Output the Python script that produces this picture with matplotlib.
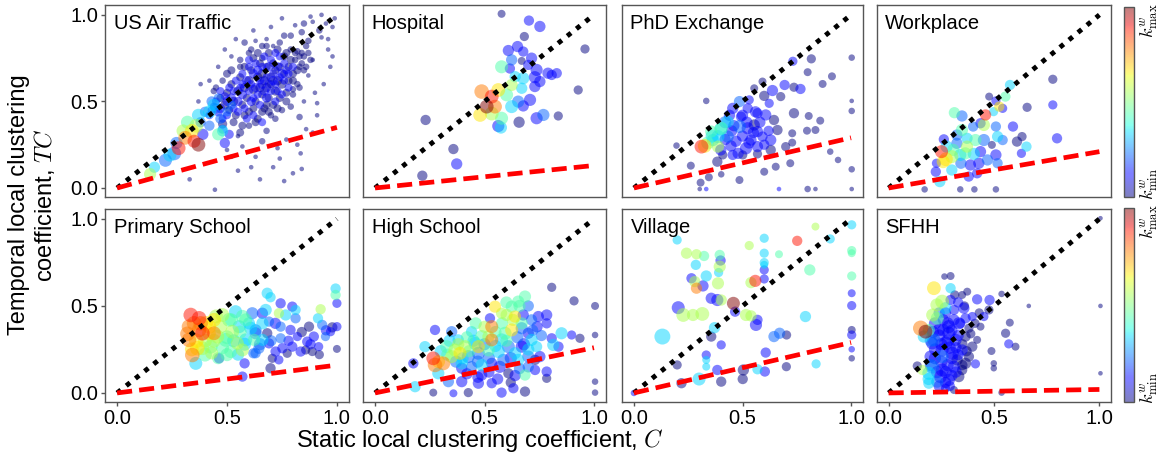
import numpy as np
import matplotlib
matplotlib.use("Agg")
import matplotlib.pyplot as plt
from matplotlib.colors import ListedColormap, Normalize
import matplotlib.colorbar as mcolorbar

plt.rcParams['font.family'] = ['Liberation Sans', 'DejaVu Sans']
plt.rcParams['mathtext.fontset'] = 'cm'

# node rows: (static C, temporal TC, weighted degree class 0-9, degree class)
air_traffic = [
    (0.445, -0.01, 0, 1), (0.76, 0.04, 0, 1), (0.80, 0.085, 0, 1), (0.33, 0.05, 0, 1), (0.835, 0.20, 0, 1),
    (0.91, 0.49, 0, 1), (0.89, 0.32, 0, 1), (0.83, 0.41, 0, 2), (0.49, 0.80, 0, 1), (0.58, 0.84, 0, 2),
    (0.63, 0.85, 0, 1), (0.37, 0.50, 0, 1), (0.81, 0.94, 0, 1), (0.85, 0.95, 0, 2), (0.89, 0.96, 0, 1),
    (0.93, 0.87, 0, 1), (0.96, 0.80, 0, 1), (0.98, 0.93, 0, 1), (0.76, 0.88, 0, 2), (0.71, 0.82, 0, 1),
    (0.68, 0.86, 0, 1), (0.56, 0.70, 0, 2), (0.57, 0.24, 0, 1), (0.63, 0.18, 0, 1), (0.71, 0.12, 0, 1),
    (0.61, 0.12, 0, 1), (0.52, 0.18, 0, 1), (0.84, 0.11, 0, 1), (0.68, 0.33, 0, 2), (0.77, 0.28, 0, 1),
    (0.86, 0.34, 0, 1), (0.80, 0.57, 0, 2), (0.87, 0.65, 0, 1), (0.89, 0.74, 0, 1), (0.96, 0.86, 0, 1),
    (0.98, 0.76, 0, 1), (0.95, 0.95, 0, 1), (0.99, 0.98, 0, 1), (0.92, 0.91, 0, 2), (0.97, 0.70, 0, 1),
    (0.94, 0.60, 0, 1), (0.90, 0.55, 0, 1), (0.73, 0.23, 0, 1), (0.66, 0.27, 0, 2), (0.55, 0.30, 0, 1),
    (0.60, 0.36, 0, 2), (0.72, 0.40, 0, 2), (0.79, 0.47, 0, 2), (0.85, 0.50, 0, 1), (0.42, 0.62, 0, 1),
    (0.46, 0.70, 0, 1), (0.52, 0.76, 0, 1), (0.44, 0.56, 0, 2), (0.38, 0.60, 0, 1), (0.54, 0.86, 0, 1),
    (0.62, 0.91, 0, 1), (0.70, 0.93, 0, 1), (0.75, 0.98, 0, 1), (0.88, 0.99, 0, 1), (0.93, 1.00, 0, 1),
    (0.65, 0.05, 0, 1), (0.55, 0.10, 0, 1), (0.50, 0.22, 0, 1), (0.74, 0.17, 0, 1), (0.82, 0.25, 0, 1),
    (0.91, 0.42, 0, 1), (0.87, 0.85, 0, 2), (0.82, 0.79, 0, 2), (0.60, 0.78, 0, 2), (0.66, 0.75, 0, 2),
    (0.42, 0.42, 1, 3), (0.44, 0.47, 1, 3), (0.46, 0.44, 1, 4), (0.47, 0.52, 0, 3), (0.48, 0.40, 1, 3),
    (0.49, 0.48, 0, 4), (0.50, 0.55, 0, 3), (0.51, 0.45, 0, 3), (0.52, 0.60, 0, 3), (0.53, 0.50, 0, 4),
    (0.54, 0.42, 0, 3), (0.55, 0.56, 0, 4), (0.56, 0.64, 0, 3), (0.57, 0.48, 0, 3), (0.58, 0.58, 0, 4),
    (0.58, 0.70, 0, 3), (0.59, 0.52, 0, 3), (0.60, 0.62, 0, 4), (0.60, 0.44, 0, 3), (0.61, 0.68, 0, 3),
    (0.62, 0.57, 0, 4), (0.62, 0.75, 0, 3), (0.63, 0.50, 0, 3), (0.64, 0.64, 0, 4), (0.64, 0.40, 0, 3),
    (0.65, 0.58, 0, 4), (0.65, 0.72, 0, 3), (0.66, 0.54, 0, 3), (0.66, 0.66, 0, 4), (0.67, 0.62, 0, 4),
    (0.67, 0.46, 0, 3), (0.68, 0.70, 0, 3), (0.68, 0.58, 0, 4), (0.69, 0.78, 0, 3), (0.69, 0.52, 0, 3),
    (0.70, 0.64, 0, 4), (0.70, 0.60, 0, 3), (0.71, 0.72, 0, 3), (0.71, 0.48, 0, 3), (0.72, 0.56, 0, 4),
    (0.72, 0.68, 0, 3), (0.73, 0.62, 0, 4), (0.73, 0.80, 0, 3), (0.74, 0.52, 0, 3), (0.74, 0.70, 0, 3),
    (0.75, 0.60, 0, 4), (0.76, 0.66, 0, 3), (0.76, 0.76, 0, 3), (0.77, 0.55, 0, 3), (0.78, 0.70, 0, 3),
    (0.78, 0.62, 0, 3), (0.79, 0.80, 0, 2), (0.80, 0.66, 0, 3), (0.81, 0.74, 0, 2), (0.82, 0.60, 0, 2),
    (0.83, 0.70, 0, 2), (0.84, 0.78, 0, 2), (0.85, 0.68, 0, 2), (0.86, 0.82, 0, 2), (0.88, 0.74, 0, 2),
    (0.63, 0.38, 0, 3), (0.57, 0.36, 0, 3), (0.53, 0.38, 0, 3), (0.70, 0.42, 0, 2), (0.75, 0.45, 0, 2),
    (0.61, 0.80, 0, 2), (0.66, 0.82, 0, 2), (0.56, 0.74, 0, 2), (0.52, 0.68, 0, 3), (0.48, 0.62, 0, 2),
    (0.45, 0.58, 0, 2), (0.50, 0.66, 0, 3), (0.74, 0.84, 0, 2), (0.79, 0.88, 0, 2), (0.84, 0.90, 0, 2),
    (0.68, 0.48, 0, 3), (0.62, 0.46, 0, 3), (0.58, 0.42, 0, 3),
    (0.43, 0.45, 1, 3), (0.45, 0.50, 1, 3), (0.47, 0.46, 1, 4), (0.49, 0.53, 1, 3), (0.50, 0.42, 1, 3),
    (0.51, 0.58, 1, 3), (0.52, 0.52, 1, 4), (0.53, 0.46, 1, 3), (0.54, 0.62, 1, 3), (0.55, 0.50, 1, 4),
    (0.56, 0.58, 1, 3), (0.57, 0.66, 1, 3), (0.57, 0.54, 1, 4), (0.58, 0.46, 1, 3), (0.59, 0.62, 1, 4),
    (0.60, 0.56, 1, 3), (0.60, 0.70, 1, 3), (0.61, 0.50, 1, 4), (0.61, 0.60, 1, 3), (0.62, 0.66, 1, 4),
    (0.62, 0.52, 1, 3), (0.63, 0.72, 1, 3), (0.63, 0.58, 1, 4), (0.64, 0.54, 1, 3), (0.64, 0.68, 1, 4),
    (0.65, 0.62, 1, 3), (0.65, 0.48, 1, 3), (0.66, 0.60, 1, 4), (0.66, 0.70, 1, 3), (0.67, 0.56, 1, 4),
    (0.67, 0.76, 1, 3), (0.68, 0.64, 1, 3), (0.68, 0.52, 1, 4), (0.69, 0.60, 1, 3), (0.69, 0.70, 1, 4),
    (0.70, 0.56, 1, 3), (0.70, 0.74, 1, 3), (0.71, 0.62, 1, 4), (0.71, 0.66, 1, 3), (0.72, 0.60, 1, 3),
    (0.72, 0.50, 1, 3), (0.73, 0.70, 1, 4), (0.73, 0.56, 1, 3), (0.74, 0.64, 1, 3), (0.74, 0.76, 1, 3),
    (0.75, 0.66, 1, 4), (0.75, 0.54, 1, 3), (0.76, 0.62, 1, 3), (0.76, 0.72, 1, 3), (0.77, 0.68, 1, 3),
    (0.77, 0.78, 0, 3), (0.78, 0.58, 1, 3), (0.78, 0.66, 1, 3), (0.79, 0.74, 0, 3), (0.80, 0.70, 1, 3),
    (0.80, 0.62, 0, 3), (0.81, 0.78, 0, 2), (0.82, 0.68, 0, 3), (0.83, 0.76, 0, 2), (0.84, 0.72, 0, 2),
    (0.85, 0.76, 0, 2), (0.86, 0.70, 0, 2), (0.87, 0.78, 0, 2), (0.59, 0.40, 1, 3), (0.62, 0.42, 1, 3),
    (0.55, 0.44, 1, 3), (0.66, 0.44, 0, 3), (0.69, 0.44, 0, 3), (0.73, 0.46, 0, 3), (0.77, 0.50, 0, 3),
    (0.80, 0.54, 0, 2), (0.83, 0.58, 0, 2), (0.60, 0.74, 1, 3), (0.64, 0.78, 0, 3), (0.68, 0.82, 0, 2),
    (0.72, 0.78, 1, 3), (0.57, 0.60, 1, 3), (0.53, 0.56, 1, 3), (0.50, 0.50, 1, 4), (0.47, 0.56, 1, 3),
    (0.40, 0.44, 2, 5), (0.43, 0.50, 2, 5), (0.45, 0.46, 2, 5), (0.47, 0.40, 2, 5), (0.50, 0.44, 2, 4),
    (0.38, 0.38, 2, 5), (0.42, 0.36, 2, 5), (0.48, 0.34, 2, 4), (0.46, 0.52, 2, 4), (0.52, 0.48, 2, 4),
    (0.49, 0.26, 1, 5), (0.51, 0.31, 1, 4), (0.48, 0.37, 0, 4), (0.56, 0.32, 0, 3), (0.66, 0.38, 1, 3),
    (0.15, 0.08, 5, 7), (0.17, 0.12, 3, 6), (0.22, 0.16, 2, 8), (0.26, 0.20, 2, 9), (0.24, 0.19, 3, 8),
    (0.28, 0.23, 8, 9), (0.37, 0.25, 9, 9), (0.31, 0.29, 7, 9), (0.34, 0.33, 6, 9), (0.36, 0.36, 5, 9),
    (0.32, 0.38, 4, 8), (0.37, 0.42, 3, 8), (0.42, 0.44, 3, 8), (0.44, 0.48, 3, 7), (0.46, 0.31, 4, 7),
    (0.48, 0.33, 3, 6), (0.27, 0.26, 2, 7), (0.30, 0.33, 5, 8), (0.39, 0.31, 1, 6), (0.35, 0.27, 8, 8),
]

hospital = [
    (0.578, 1.006, 0, 3), (0.703, 0.967, 1, 5), (0.753, 0.933, 1, 6), (0.682, 0.875, 0, 4), (0.959, 0.803, 0, 4),
    (0.651, 0.817, 1, 6), (0.609, 0.794, 1, 6), (0.677, 0.788, 1, 5), (0.715, 0.750, 1, 6), (0.624, 0.740, 2, 6),
    (0.670, 0.734, 0, 3), (0.578, 0.700, 4, 8), (0.616, 0.690, 1, 5), (0.738, 0.682, 1, 7), (0.790, 0.663, 1, 6),
    (0.830, 0.663, 1, 5), (0.730, 0.640, 1, 7), (0.677, 0.634, 3, 7), (0.640, 0.643, 3, 6), (0.624, 0.595, 5, 7),
    (0.730, 0.586, 1, 6), (0.670, 0.576, 3, 6), (0.928, 0.566, 0, 4), (0.487, 0.557, 7, 10), (0.563, 0.566, 6, 9),
    (0.601, 0.538, 4, 8), (0.533, 0.528, 8, 9), (0.708, 0.509, 1, 7), (0.654, 0.499, 2, 7), (0.624, 0.470, 3, 8),
    (0.677, 0.474, 1, 6), (0.510, 0.470, 9, 9), (0.548, 0.470, 7, 9), (0.480, 0.422, 6, 9), (0.533, 0.430, 5, 9),
    (0.578, 0.403, 4, 8), (0.769, 0.422, 2, 7), (0.738, 0.403, 1, 7), (0.837, 0.416, 0, 4), (0.658, 0.380, 0, 6),
    (0.563, 0.358, 1, 7), (0.575, 0.349, 3, 7), (0.231, 0.393, 0, 5), (0.358, 0.225, 0, 5), (0.373, 0.139, 1, 6),
    (0.216, 0.071, 0, 5), (0.700, 0.711, 1, 5), (0.753, 0.615, 1, 6), (0.807, 0.653, 1, 5),
]

phd_exchange = [
    (1.003, 0.753, 0, 2), (1.003, 0.503, 0, 1), (1.003, 0.445, 0, 2), (1.003, 0.108, 0, 2), (1.003, -0.006, 0, 1),
    (0.817, 0.746, 0, 4), (0.800, 0.669, 0, 3), (0.732, 0.732, 1, 4), (0.912, 0.645, 0, 3), (0.869, 0.601, 0, 3),
    (0.767, 0.572, 1, 5), (0.737, 0.582, 0, 4), (0.694, 0.595, 1, 5), (0.638, 0.563, 1, 6), (0.600, 0.532, 0, 5),
    (0.676, 0.528, 0, 4), (0.333, 0.503, 0, 2), (0.486, 0.499, 2, 6), (0.455, 0.460, 1, 6), (0.524, 0.460, 1, 5),
    (0.569, 0.432, 1, 5), (0.607, 0.422, 1, 6), (0.737, 0.432, 0, 5), (0.805, 0.416, 0, 3), (0.858, 0.389, 0, 3),
    (0.432, 0.383, 3, 7), (0.486, 0.355, 2, 8), (0.402, 0.345, 4, 8), (0.356, 0.326, 4, 7), (0.524, 0.345, 1, 7),
    (0.569, 0.326, 1, 6), (0.661, 0.335, 0, 5), (0.729, 0.316, 0, 3), (0.797, 0.331, 0, 3), (0.836, 0.335, 0, 3),
    (0.311, 0.239, 8, 9), (0.326, 0.243, 6, 9), (0.387, 0.297, 3, 8), (0.432, 0.297, 2, 7), (0.447, 0.243, 1, 6),
    (0.516, 0.229, 1, 7), (0.569, 0.239, 1, 6), (0.630, 0.220, 0, 5), (0.699, 0.239, 0, 4), (0.729, 0.262, 0, 3),
    (0.387, 0.239, 5, 7), (0.364, 0.277, 3, 7), (0.409, 0.191, 0, 4), (0.455, 0.191, 1, 5), (0.384, 0.152, 0, 5),
    (0.501, 0.191, 0, 4), (0.569, 0.197, 0, 4), (0.720, 0.143, 0, 3), (0.262, 0.129, 0, 3), (0.196, 0.245, 0, 2),
    (0.307, 0.031, 0, 3), (0.345, 0.062, 0, 3), (0.486, 0.046, 0, 3), (0.600, 0.094, 0, 3), (0.653, 0.123, 0, 3),
    (0.402, 0.079, 0, 2), (0.303, -0.006, 0, 1), (0.333, -0.006, 1, 1), (0.668, -0.006, 1, 1), (0.800, -0.006, 0, 2),
    (0.836, -0.006, 0, 1), (0.940, 0.162, 0, 2), (0.554, 0.364, 0, 6), (0.630, 0.277, 1, 6), (0.592, 0.297, 1, 5),
    (0.539, 0.277, 1, 6), (0.493, 0.412, 1, 5), (0.645, 0.393, 0, 5), (0.623, 0.489, 1, 4), (0.531, 0.509, 1, 4),
    (0.592, 0.615, 0, 3), (0.554, 0.576, 0, 3), (0.904, 0.210, 0, 2),
    (0.45, 0.33, 1, 6), (0.50, 0.30, 1, 6), (0.52, 0.38, 1, 6), (0.47, 0.27, 1, 6), (0.55, 0.32, 1, 6),
    (0.58, 0.38, 1, 6), (0.50, 0.42, 1, 6), (0.44, 0.42, 1, 6), (0.42, 0.28, 1, 6), (0.48, 0.20, 1, 6),
    (0.53, 0.26, 1, 6), (0.60, 0.25, 1, 5), (0.56, 0.44, 1, 6), (0.62, 0.33, 1, 5), (0.40, 0.22, 1, 6),
    (0.46, 0.36, 1, 6), (0.36, 0.30, 3, 8), (0.40, 0.34, 3, 8), (0.34, 0.26, 4, 8), (0.42, 0.38, 2, 7),
]

workplace = [
    (0.779, 0.628, 0, 4), (0.779, 0.480, 1, 4), (0.799, 0.287, 1, 5), (0.657, 0.466, 0, 4), (0.590, 0.355, 1, 5),
    (0.633, 0.297, 0, 4), (0.609, 0.268, 0, 5), (0.654, 0.239, 3, 5), (0.630, 0.200, 1, 4), (0.576, 0.595, 3, 5),
    (0.554, 0.528, 4, 5), (0.477, 0.528, 0, 3), (0.509, 0.503, 1, 4), (0.525, 0.470, 6, 5), (0.541, 0.460, 1, 4),
    (0.498, 0.441, 3, 4), (0.312, 0.435, 4, 6), (0.348, 0.416, 2, 6), (0.436, 0.374, 1, 5), (0.460, 0.422, 8, 6),
    (0.452, 0.364, 5, 7), (0.509, 0.355, 2, 5), (0.517, 0.297, 3, 6), (0.541, 0.277, 2, 5), (0.490, 0.249, 0, 3),
    (0.401, 0.355, 2, 5), (0.348, 0.335, 4, 7), (0.324, 0.306, 2, 6), (0.372, 0.287, 3, 6), (0.412, 0.277, 4, 7),
    (0.452, 0.277, 2, 7), (0.262, 0.281, 1, 5), (0.275, 0.239, 3, 7), (0.251, 0.210, 8, 8), (0.272, 0.166, 6, 9),
    (0.259, 0.152, 6, 8), (0.300, 0.181, 5, 8), (0.340, 0.191, 3, 7), (0.364, 0.200, 4, 7), (0.404, 0.197, 3, 7),
    (0.436, 0.210, 1, 6), (0.343, 0.143, 2, 6), (0.388, 0.133, 1, 6), (0.428, 0.143, 1, 6), (0.469, 0.162, 2, 6),
    (0.509, 0.191, 1, 6), (0.517, 0.143, 2, 5), (0.300, 0.104, 3, 6), (0.227, 0.143, 1, 4), (0.224, 0.094, 1, 5),
    (0.243, 0.037, 3, 6), (0.380, 0.066, 1, 5), (0.420, 0.085, 1, 5), (0.171, -0.008, 0, 2), (0.340, -0.008, 0, 2),
    (0.407, -0.008, 0, 2), (0.509, -0.008, 0, 2), (0.307, 0.220, 4, 7), (0.372, 0.239, 5, 7), (0.324, 0.258, 2, 6),
]

primary_school = [
    (0.994, 0.600, 3, 5), (0.994, 0.563, 4, 5), (1.000, 0.515, 1, 4), (1.000, 0.381, 1, 4), (1.000, 0.253, 0, 3),
    (0.979, 0.377, 0, 5), (0.971, 0.352, 1, 4), (0.948, 0.324, 2, 4), (0.926, 0.481, 5, 5), (0.914, 0.429, 3, 5),
    (0.933, 0.391, 2, 5), (0.895, 0.324, 1, 5), (0.917, 0.266, 1, 4), (0.888, 0.238, 0, 4), (0.865, 0.295, 1, 5),
    (0.858, 0.247, 0, 4), (0.835, 0.238, 1, 5), (0.820, 0.324, 1, 4), (0.873, 0.381, 0, 5), (0.797, 0.266, 1, 5),
    (0.774, 0.228, 0, 4), (0.752, 0.257, 1, 5), (0.744, 0.314, 2, 5), (0.721, 0.238, 1, 5), (0.706, 0.199, 0, 4),
    (0.736, 0.190, 1, 4), (0.698, 0.142, 0, 5), (0.645, 0.257, 2, 6), (0.630, 0.228, 2, 5), (0.691, 0.285, 1, 5),
    (0.683, 0.343, 0, 5), (0.691, 0.410, 2, 5), (0.661, 0.458, 1, 6), (0.683, 0.573, 3, 6), (0.698, 0.550, 3, 5),
    (0.744, 0.515, 1, 5), (0.797, 0.496, 1, 5), (0.767, 0.448, 3, 6), (0.812, 0.477, 3, 5), (0.744, 0.381, 2, 5),
    (0.789, 0.362, 1, 5), (0.812, 0.429, 2, 5), (0.736, 0.458, 5, 5), (0.570, 0.094, 1, 5), (0.580, 0.170, 1, 5),
    (0.620, 0.228, 2, 5), (0.464, 0.199, 1, 5), (0.358, 0.170, 3, 8), (0.342, 0.218, 7, 10), (0.365, 0.257, 6, 10),
    (0.327, 0.305, 7, 10), (0.327, 0.381, 7, 10), (0.335, 0.448, 8, 10), (0.373, 0.429, 8, 10), (0.373, 0.362, 7, 10),
    (0.403, 0.400, 6, 10), (0.418, 0.343, 6, 9), (0.388, 0.257, 5, 9), (0.426, 0.266, 4, 9), (0.456, 0.324, 5, 9),
    (0.479, 0.448, 5, 9), (0.441, 0.420, 6, 9), (0.509, 0.420, 4, 9), (0.524, 0.352, 5, 9), (0.494, 0.305, 4, 9),
    (0.547, 0.285, 5, 8), (0.570, 0.247, 5, 8), (0.517, 0.238, 4, 8), (0.555, 0.381, 3, 8), (0.585, 0.420, 4, 8),
    (0.615, 0.458, 2, 7), (0.608, 0.372, 3, 8), (0.630, 0.343, 2, 7), (0.661, 0.400, 3, 7), (0.585, 0.305, 3, 8),
    (0.623, 0.305, 4, 7), (0.661, 0.305, 3, 7), (0.676, 0.477, 3, 7), (0.539, 0.467, 3, 8), (0.441, 0.343, 7, 9),
    (0.388, 0.343, 8, 10),
    (0.35, 0.40, 7, 10), (0.32, 0.34, 7, 10), (0.36, 0.30, 6, 10), (0.40, 0.30, 5, 9), (0.38, 0.40, 7, 10),
    (0.42, 0.38, 6, 9), (0.34, 0.25, 6, 9), (0.40, 0.22, 4, 9), (0.44, 0.30, 5, 9), (0.47, 0.38, 5, 9),
    (0.50, 0.32, 4, 9), (0.52, 0.42, 4, 8), (0.48, 0.26, 4, 8), (0.53, 0.30, 3, 8), (0.56, 0.35, 4, 8),
    (0.58, 0.28, 3, 8), (0.60, 0.40, 3, 7), (0.63, 0.36, 2, 7), (0.65, 0.28, 2, 7), (0.57, 0.44, 4, 8),
    (0.45, 0.44, 5, 9), (0.43, 0.23, 5, 8), (0.46, 0.20, 4, 7), (0.50, 0.22, 4, 8), (0.55, 0.22, 3, 7),
    (0.72, 0.40, 1, 6), (0.78, 0.30, 1, 5), (0.84, 0.35, 0, 5), (0.88, 0.28, 1, 5), (0.95, 0.36, 1, 5),
    (0.92, 0.22, 0, 4), (0.70, 0.30, 2, 6),
]

high_school = [
    (1.005, 0.500, 0, 3), (1.005, 0.333, 0, 2), (1.005, 0.065, 0, 2), (1.005, 0.002, 0, 2), (0.807, 0.607, 0, 4),
    (0.909, 0.529, 0, 4), (0.898, 0.333, 1, 4), (0.936, 0.314, 0, 4), (0.852, 0.343, 3, 7), (0.807, 0.314, 1, 5),
    (0.784, 0.448, 1, 6), (0.746, 0.439, 1, 6), (0.784, 0.400, 1, 5), (0.814, 0.276, 3, 7), (0.738, 0.266, 3, 6),
    (0.784, 0.123, 1, 5), (0.784, 0.084, 0, 4), (0.731, 0.132, 1, 5), (0.685, 0.554, 4, 7), (0.654, 0.525, 4, 7),
    (0.624, 0.496, 4, 7), (0.677, 0.448, 1, 6), (0.548, 0.496, 6, 7), (0.578, 0.458, 5, 6), (0.525, 0.429, 1, 5),
    (0.533, 0.381, 7, 8), (0.624, 0.362, 6, 8), (0.670, 0.372, 2, 7), (0.700, 0.343, 1, 6), (0.715, 0.305, 3, 7),
    (0.533, 0.305, 7, 8), (0.578, 0.305, 3, 8), (0.487, 0.324, 4, 8), (0.457, 0.285, 3, 8), (0.411, 0.266, 5, 8),
    (0.365, 0.247, 5, 8), (0.327, 0.266, 4, 8), (0.388, 0.228, 6, 8), (0.426, 0.209, 2, 8), (0.472, 0.228, 2, 8),
    (0.518, 0.247, 4, 8), (0.609, 0.266, 2, 8), (0.639, 0.228, 3, 7), (0.670, 0.266, 1, 7), (0.654, 0.190, 3, 7),
    (0.586, 0.190, 2, 7), (0.533, 0.170, 1, 6), (0.487, 0.161, 3, 7), (0.441, 0.151, 2, 6), (0.396, 0.170, 3, 7),
    (0.350, 0.209, 5, 8), (0.274, 0.161, 7, 10), (0.312, 0.170, 7, 9), (0.266, 0.199, 8, 9), (0.228, 0.266, 3, 6),
    (0.274, 0.362, 1, 5), (0.350, 0.352, 2, 6), (0.380, 0.305, 3, 6), (0.175, 0.170, 1, 5), (0.183, 0.036, 3, 6),
    (0.289, 0.113, 3, 7), (0.335, 0.065, 2, 6), (0.396, 0.065, 1, 6), (0.426, 0.002, 0, 4), (0.472, 0.056, 1, 6),
    (0.533, 0.056, 1, 5), (0.578, 0.002, 1, 5), (0.632, 0.027, 1, 5), (0.685, 0.008, 0, 5), (0.266, 0.002, 0, 3),
    (0.358, -0.002, 1, 3), (0.487, 0.103, 1, 6), (0.609, 0.113, 0, 5), (0.685, 0.103, 4, 6), (0.700, 0.209, 2, 7),
    (0.753, 0.209, 1, 6), (0.715, 0.420, 2, 6), (0.601, 0.448, 5, 7), (0.639, 0.439, 6, 7), (0.472, 0.266, 6, 8),
    (0.563, 0.238, 3, 8), (0.441, 0.352, 3, 6), (0.518, 0.324, 5, 7), (0.594, 0.343, 4, 8), (0.396, 0.142, 1, 6),
    (0.731, 0.190, 0, 5), (0.838, 0.266, 1, 5),
    (0.45, 0.30, 3, 7), (0.50, 0.28, 2, 7), (0.55, 0.27, 3, 7), (0.60, 0.30, 4, 7), (0.65, 0.32, 2, 7),
    (0.68, 0.28, 1, 7), (0.62, 0.20, 1, 7), (0.57, 0.15, 1, 7), (0.52, 0.20, 2, 7), (0.47, 0.18, 2, 7),
    (0.43, 0.24, 4, 7), (0.40, 0.20, 3, 7), (0.37, 0.18, 2, 7), (0.33, 0.22, 4, 7), (0.30, 0.24, 3, 7),
    (0.29, 0.18, 6, 8), (0.42, 0.11, 1, 6), (0.47, 0.09, 1, 6), (0.52, 0.12, 1, 6), (0.56, 0.08, 1, 6),
    (0.62, 0.06, 0, 5), (0.66, 0.14, 2, 6), (0.70, 0.25, 3, 7), (0.72, 0.36, 2, 6), (0.67, 0.40, 4, 7),
    (0.63, 0.42, 5, 7), (0.58, 0.40, 4, 7), (0.55, 0.35, 4, 7), (0.50, 0.38, 5, 7), (0.46, 0.40, 4, 7),
    (0.42, 0.32, 4, 7), (0.38, 0.28, 5, 7), (0.34, 0.30, 3, 7), (0.60, 0.52, 4, 7), (0.66, 0.50, 4, 7),
    (0.70, 0.50, 2, 6), (0.74, 0.38, 1, 6), (0.76, 0.33, 2, 6), (0.70, 0.15, 2, 6), (0.64, 0.10, 1, 6),
]

village = [
    (1.003, 0.966, 3, 4), (1.003, 0.818, 4, 4), (1.003, 0.803, 4, 3), (1.003, 0.672, 4, 4), (1.003, 0.573, 1, 3),
    (1.003, 0.502, 1, 4), (1.003, 0.362, 0, 3), (1.003, 0.333, 1, 4), (1.003, 0.251, 1, 2), (1.003, 0.199, 0, 2),
    (0.836, 0.956, 5, 3), (0.904, 0.885, 3, 4), (0.752, 0.874, 8, 5), (0.810, 0.707, 4, 6), (0.668, 0.797, 4, 3),
    (0.600, 0.889, 3, 4), (0.600, 0.803, 3, 4), (0.600, 0.749, 3, 4), (0.600, 0.736, 3, 3), (0.600, 0.707, 1, 4),
    (0.600, 0.655, 1, 4), (0.531, 0.847, 5, 4), (0.199, 0.879, 3, 4), (0.242, 0.803, 5, 6), (0.288, 0.797, 5, 5),
    (0.323, 0.787, 4, 5), (0.395, 0.793, 4, 5), (0.399, 0.761, 1, 5), (0.395, 0.726, 5, 7), (0.285, 0.736, 3, 5),
    (0.333, 0.672, 3, 6), (0.265, 0.659, 1, 5), (0.280, 0.640, 5, 6), (0.318, 0.615, 1, 6), (0.288, 0.602, 7, 6),
    (0.390, 0.692, 3, 4), (0.387, 0.630, 5, 7), (0.356, 0.544, 1, 6), (0.384, 0.534, 1, 7), (0.402, 0.534, 5, 6),
    (0.204, 0.490, 1, 8), (0.227, 0.448, 5, 9), (0.272, 0.448, 5, 7), (0.315, 0.454, 5, 9), (0.131, 0.324, 3, 12),
    (0.371, 0.375, 3, 6), (0.356, 0.324, 0, 5), (0.402, 0.276, 1, 4), (0.458, 0.515, 9, 8), (0.466, 0.467, 1, 5),
    (0.559, 0.644, 8, 7), (0.539, 0.634, 5, 6), (0.516, 0.448, 5, 7), (0.539, 0.443, 5, 6), (0.569, 0.420, 1, 5),
    (0.562, 0.391, 1, 7), (0.645, 0.324, 2, 6), (0.671, 0.343, 2, 6), (0.703, 0.333, 0, 4), (0.790, 0.439, 3, 6),
    (0.607, 0.232, 1, 5), (0.702, 0.151, 0, 4), (0.839, 0.167, 3, 4), (0.333, 0.218, 1, 4), (0.333, 0.190, 3, 3),
    (0.333, 0.151, 3, 3), (0.199, 0.161, 0, 4), (0.384, 0.132, 1, 5), (0.402, 0.065, 0, 5), (0.300, 0.080, 3, 8),
    (0.219, 0.056, 0, 5), (0.504, 0.132, 0, 6), (0.501, 0.080, 0, 5), (0.569, 0.136, 3, 5), (0.603, 0.123, 1, 5),
    (0.000, 0.000, 1, 2),
]

sfhh = [
    (1.005, 1.004, 0, 1), (1.005, 0.500, 0, 1), (1.005, 0.113, 0, 1), (0.665, 0.500, 0, 1), (0.536, 0.569, 0, 2),
    (0.536, 0.002, 0, 2), (0.575, 0.404, 0, 3), (0.555, 0.343, 0, 4), (0.570, 0.282, 1, 4), (0.602, 0.266, 0, 3),
    (0.488, 0.241, 0, 3), (0.499, 0.170, 0, 2), (0.499, 0.142, 0, 2), (0.479, 0.534, 1, 5), (0.420, 0.538, 1, 5),
    (0.476, 0.477, 0, 4), (0.452, 0.439, 1, 4), (0.436, 0.381, 0, 3), (0.420, 0.305, 0, 3), (0.412, 0.167, 1, 4),
    (0.373, 0.582, 0, 3), (0.349, 0.563, 0, 3), (0.294, 0.672, 0, 3), (0.265, 0.669, 0, 2), (0.294, 0.602, 3, 5),
    (0.314, 0.563, 0, 4), (0.215, 0.602, 6, 9), (0.254, 0.525, 5, 9), (0.229, 0.506, 5, 8), (0.270, 0.487, 3, 7),
    (0.209, 0.448, 5, 8), (0.231, 0.429, 4, 8), (0.152, 0.372, 7, 11), (0.175, 0.352, 9, 9), (0.167, 0.324, 3, 7),
    (0.191, 0.362, 4, 7), (0.310, 0.477, 1, 5), (0.357, 0.487, 1, 6), (0.365, 0.429, 1, 5), (0.333, 0.400, 1, 7),
    (0.286, 0.381, 1, 8), (0.238, 0.362, 1, 7), (0.215, 0.305, 2, 8), (0.270, 0.285, 1, 9), (0.318, 0.305, 1, 7),
    (0.365, 0.324, 0, 5), (0.397, 0.266, 0, 5), (0.349, 0.247, 1, 6), (0.302, 0.228, 1, 8), (0.254, 0.209, 2, 8),
    (0.199, 0.209, 1, 7), (0.207, 0.151, 2, 9), (0.191, 0.113, 3, 8), (0.254, 0.132, 1, 8), (0.310, 0.151, 1, 7),
    (0.365, 0.170, 0, 6), (0.381, 0.209, 0, 5), (0.286, 0.075, 1, 7), (0.231, 0.065, 2, 7), (0.191, 0.056, 3, 6),
    (0.333, 0.094, 0, 6), (0.310, 0.017, 0, 3), (0.136, 0.155, 0, 4), (0.160, 0.132, 5, 5), (0.246, 0.094, 1, 8),
    (0.286, 0.343, 1, 8), (0.254, 0.247, 1, 8), (0.325, 0.190, 0, 6), (0.381, 0.372, 0, 4), (0.397, 0.439, 1, 4),
    (0.294, 0.534, 1, 5), (0.349, 0.132, 0, 5), (0.207, 0.285, 1, 7), (0.270, 0.027, 1, 4),
    (0.22, 0.40, 1, 7), (0.24, 0.33, 1, 7), (0.26, 0.42, 1, 6), (0.28, 0.30, 1, 7), (0.30, 0.36, 1, 6),
    (0.32, 0.26, 1, 6), (0.22, 0.25, 1, 7), (0.25, 0.18, 1, 7), (0.28, 0.16, 1, 7), (0.30, 0.10, 1, 6),
    (0.23, 0.12, 1, 7), (0.27, 0.06, 1, 6), (0.20, 0.30, 2, 7), (0.33, 0.33, 1, 6), (0.34, 0.40, 1, 5),
    (0.31, 0.42, 1, 6), (0.27, 0.46, 1, 6), (0.24, 0.46, 2, 6), (0.26, 0.36, 1, 7), (0.29, 0.26, 1, 7),
    (0.33, 0.22, 1, 6), (0.35, 0.28, 0, 5), (0.22, 0.20, 1, 7), (0.20, 0.16, 2, 7), (0.19, 0.08, 3, 7),
    (0.24, 0.04, 1, 6), (0.29, 0.04, 1, 5), (0.32, 0.12, 1, 6), (0.35, 0.16, 0, 5), (0.37, 0.24, 0, 5),
    (0.39, 0.34, 0, 4), (0.41, 0.40, 0, 4), (0.43, 0.46, 0, 4), (0.36, 0.50, 0, 4), (0.33, 0.52, 1, 5),
    (0.28, 0.40, 1, 7), (0.21, 0.35, 1, 7), (0.25, 0.28, 1, 7), (0.30, 0.20, 1, 7), (0.27, 0.12, 1, 7),
]

datasets = [air_traffic, hospital, phd_exchange, workplace,
            primary_school, high_school, village, sfhh]
names = ["US Air Traffic", "Hospital", "PhD Exchange", "Workplace",
         "Primary School", "High School", "Village", "SFHH"]
# slope of the red reference line for each network
slopes = [0.35, 0.13, 0.29, 0.21, 0.16, 0.26, 0.29, 0.02]

# translucent jet colormap shared by the points and the colour bars
jet = plt.get_cmap('jet')
cols = jet(np.linspace(0, 1, 256))
cols[:, 3] = 0.5
cmap = ListedColormap(cols)

fig = plt.figure(figsize=(11.65, 4.57), dpi=100)
W, H = 1165.0, 457.0

col_px = [(105, 349), (363, 606), (622, 863), (877, 1111)]
row_px = [(5, 197), (209, 402)]
xlim = (-0.055, 1.055)
ylim = (-0.052, 1.057)

for i, (nodes, name, slope) in enumerate(zip(datasets, names, slopes)):
    r, c = divmod(i, 4)
    x0, x1 = col_px[c]
    y0, y1 = row_px[r]
    ax = fig.add_axes([x0 / W, 1 - y1 / H, (x1 - x0) / W, (y1 - y0) / H])

    arr = np.array(nodes, dtype=float)
    order = np.argsort(arr[:, 2], kind='stable')
    arr = arr[order]
    ax.scatter(arr[:, 0], arr[:, 1], c=arr[:, 2] / 9.0, cmap=cmap, vmin=0, vmax=1,
               s=11 * arr[:, 3], linewidths=0, zorder=2)

    ax.plot([0, 1], [0, 1], color='black', lw=3.5, ls=(0, (1, 1.4)), zorder=3)
    ax.plot([0, 1], [0, slope], color='#ff0000', lw=3.4, ls=(0, (3.2, 1.5)), zorder=3)

    ax.set_xlim(*xlim)
    ax.set_ylim(*ylim)
    ax.set_xticks([0, 0.5, 1])
    ax.set_yticks([0, 0.5, 1])
    ax.set_xticklabels(['0.0', '0.5', '1.0'])
    ax.set_yticklabels(['0.0', '0.5', '1.0'])
    ax.tick_params(labelsize=14.5, length=3, width=1, color='#555555', pad=2)
    if r == 0:
        ax.tick_params(bottom=False, labelbottom=False)
    if c > 0:
        ax.tick_params(left=False, labelleft=False)
    for sp in ax.spines.values():
        sp.set_color('#555555')
        sp.set_linewidth(1)

    ax.text(0.035, 0.955, name, transform=ax.transAxes, fontsize=14.5,
            va='top', ha='left', zorder=4)

# colour bars for each row
for y0, y1 in [(7, 197), (208, 402)]:
    cax = fig.add_axes([1124 / W, 1 - y1 / H, 10 / W, (y1 - y0) / H])
    cb = mcolorbar.ColorbarBase(cax, cmap=cmap, norm=Normalize(0, 1))
    cb.set_ticks([0.07, 0.93])
    cb.set_ticklabels([r'$k^w_{\min}$', r'$k^w_{\max}$'])
    cax.tick_params(length=0, labelsize=13, pad=3)
    for lab in cax.get_yticklabels():
        lab.set_rotation(90)
        lab.set_va('center')
    cb.outline.set_edgecolor('#555555')
    cb.outline.set_linewidth(1)

fig.text(480 / W, 1 - 440 / H, r'Static local clustering coefficient, $C$',
         ha='center', va='center', fontsize=17)
fig.text(33 / W, 1 - 205 / H, 'Temporal local clustering\ncoefficient, $TC$',
         ha='center', va='center', rotation=90, fontsize=17, linespacing=1.1)

fig.savefig('out.png', dpi=100)
